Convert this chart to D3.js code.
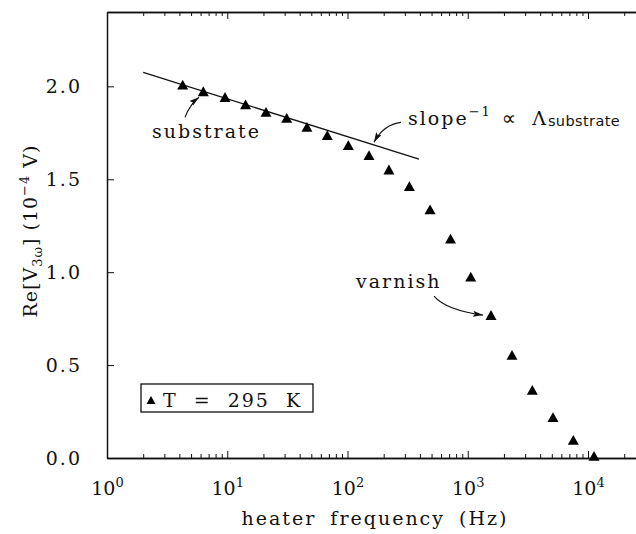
<!DOCTYPE html>
<html>
<head>
<meta charset="utf-8">
<script src="https://cdn.jsdelivr.net/npm/d3@7"></script>
<style>
    body { margin: 0; background: #fff; }
    svg { display: block; }
    text { font-family: "DejaVu Serif", serif; fill: #111; }
</style>
</head>
<body>
<div id="chart"></div>
<script>
// Measured values (heater frequency in Hz, Re[V3w] in 1e-4 V)
const freq = [4.26, 6.32, 9.58, 14.2, 21.0, 31.2, 46.0, 67.9, 101.6, 151, 221, 327,
              486, 719, 1059, 1561, 2333, 3443, 5117, 7546, 11220];
const reV = [2.009, 1.973, 1.942, 1.902, 1.862, 1.830, 1.781, 1.737, 1.683, 1.629, 1.552, 1.462,
             1.337, 1.180, 0.975, 0.769, 0.554, 0.366, 0.219, 0.097, 0.011];

// Low-frequency linear fit (substrate)
const fitFreq = [2, 393];
const fitV = [2.075, 1.608];

// Axis ticks
const xMajor = [1, 10, 100, 1000, 10000];
const xTickExp = ['0', '1', '2', '3', '4'];
const yMajor = [0, 0.5, 1.0, 1.5, 2.0];
const yTickLabels = ['0.0', '0.5', '1.0', '1.5', '2.0'];

// Annotation arrows in data space: [freq, value] start, control, tip
const arrowSubstrate = [[4.45, 1.833], [4.9, 1.903], [5.82, 1.941]];
const arrowSlope = [[278.6, 1.806], [201, 1.796], [166, 1.699]];
const arrowVarnish = [[524, 0.871], [659, 0.796], [1339, 0.769]];

const width = 636;
const height = 534;
const margin = { top: 12, left: 107, bottom: 76 };
const decade = 120.25;
const innerHeight = height - margin.top - margin.bottom;
const maxExp = (width - margin.left) / decade;   // axis runs to the right edge

const svg = d3.select('#chart').append('svg')
    .attr('width', width)
    .attr('height', height);

const xScale = d3.scaleLog()
    .domain([1, Math.pow(10, maxExp)])
    .range([margin.left, width]);

const yScale = d3.scaleLinear()
    .domain([0, 2.4])
    .range([margin.top + innerHeight, margin.top]);

const x0 = margin.left, y0 = margin.top + innerHeight;

// minor ticks 2..9 per decade, inside the visible range
const xMinor = [];
for (let e = 0; e < 5; e++) {
    for (let m = 2; m <= 9; m++) {
        const v = m * Math.pow(10, e);
        if (Math.log10(v) < maxExp - 0.02) xMinor.push(v);
    }
}

const defs = svg.append('defs');
defs.append('marker')
    .attr('id', 'head')
    .attr('viewBox', '0 0 10 6')
    .attr('refX', 10)
    .attr('refY', 3)
    .attr('markerWidth', 10)
    .attr('markerHeight', 6)
    .attr('markerUnits', 'userSpaceOnUse')
    .attr('orient', 'auto')
    .append('path')
    .attr('d', 'M0,0 L10,3 L0,6 L2,3 Z')
    .attr('fill', '#111');

// Axes: bottom, top, left (inward ticks)
const styleAxis = g => {
    g.attr('font-family', null).attr('font-size', null);
    g.select('.domain').attr('stroke', '#111').attr('stroke-width', 1.5);
    g.selectAll('.tick line').attr('stroke', '#111').attr('stroke-width', 1);
};

svg.append('g')
    .attr('transform', `translate(0,${y0})`)
    .call(d3.axisBottom(xScale).tickValues(xMinor).tickSize(-4).tickSizeOuter(0).tickFormat(''))
    .call(styleAxis);

// bottom major ticks with 10^n labels
const xAxisMajor = svg.append('g')
    .attr('transform', `translate(0,${y0})`)
    .call(d3.axisBottom(xScale).tickValues(xMajor).tickSize(-7).tickSizeOuter(0)
        .tickPadding(24).tickFormat(() => '10'))
    .call(styleAxis);
xAxisMajor.selectAll('.tick text')
    .style('font-size', '19px')
    .append('tspan')
    .attr('dy', -8)
    .style('font-size', '13px')
    .text((d, i) => xTickExp[i]);

svg.append('g')
    .attr('transform', `translate(0,${margin.top})`)
    .call(d3.axisTop(xScale).tickValues(xMinor).tickSize(-4).tickSizeOuter(0).tickFormat(''))
    .call(styleAxis);
svg.append('g')
    .attr('transform', `translate(0,${margin.top})`)
    .call(d3.axisTop(xScale).tickValues(xMajor).tickSize(-7).tickSizeOuter(0).tickFormat(''))
    .call(styleAxis);

const yAxis = svg.append('g')
    .attr('transform', `translate(${x0},0)`)
    .call(d3.axisLeft(yScale).tickValues(yMajor).tickSize(-7).tickSizeOuter(0)
        .tickPadding(25).tickFormat((d, i) => yTickLabels[i]))
    .call(styleAxis);
yAxis.selectAll('.tick text')
    .style('font-size', '19px')
    .style('letter-spacing', '2px');

// axis titles
svg.append('text')
    .attr('x', 375)
    .attr('y', 525)
    .attr('text-anchor', 'middle')
    .style('font-size', '19px')
    .style('letter-spacing', '2px')
    .style('word-spacing', '6px')
    .text('heater frequency (Hz)');

const yl = svg.append('text')
    .attr('transform', 'translate(37,231) rotate(-90)')
    .attr('text-anchor', 'middle')
    .style('font-size', '19px')
    .style('letter-spacing', '1px');
yl.append('tspan').text('Re[V');
yl.append('tspan').attr('dy', 5).style('font-size', '13px').text('3ω');
yl.append('tspan').attr('dy', -5).text(']  (10');
yl.append('tspan').attr('dy', -8).style('font-size', '13px').text('−4');
yl.append('tspan').attr('dy', 8).text(' V)');

// fit line
const line = d3.line()
    .x(d => xScale(d[0]))
    .y(d => yScale(d[1]));

svg.append('path')
    .datum(d3.zip(fitFreq, fitV))
    .attr('d', line)
    .attr('fill', 'none')
    .attr('stroke', '#111')
    .attr('stroke-width', 1.3);

// data points
const tri = 'M-5.5,4.8 L5.5,4.8 L0,-5 Z';
svg.selectAll('.pt')
    .data(d3.zip(freq, reV))
    .enter().append('path')
    .attr('class', 'pt')
    .attr('transform', d => `translate(${xScale(d[0])},${yScale(d[1])})`)
    .attr('d', tri)
    .attr('fill', '#000');

// annotation arrows
const curve = pts => {
    const p = pts.map(d => [xScale(d[0]), yScale(d[1])]);
    return `M${p[0][0]},${p[0][1]} Q${p[1][0]},${p[1][1]} ${p[2][0]},${p[2][1]}`;
};
[arrowSubstrate, arrowSlope, arrowVarnish].forEach(a => {
    svg.append('path')
        .attr('d', curve(a))
        .attr('fill', 'none')
        .attr('stroke', '#111')
        .attr('stroke-width', 1.1)
        .attr('marker-end', 'url(#head)');
});

// annotation texts
svg.append('text')
    .attr('x', xScale(2.37))
    .attr('y', yScale(1.72))
    .style('font-size', '19px')
    .style('letter-spacing', '2px')
    .text('substrate');

svg.append('text')
    .attr('x', xScale(117.7))
    .attr('y', yScale(0.914))
    .style('font-size', '19px')
    .style('letter-spacing', '2px')
    .text('varnish');

const sl = svg.append('text')
    .attr('x', xScale(318.5))
    .attr('y', yScale(1.79))
    .style('font-size', '19px')
    .style('letter-spacing', '2px');
sl.append('tspan').text('slope');
sl.append('tspan').attr('dy', -9).style('font-size', '13px').text('−1');
sl.append('tspan').attr('dy', 9).attr('dx', 10)
    .style('font-family', '"DejaVu Sans", sans-serif')
    .style('font-size', '20px').text('∝');
sl.append('tspan').attr('dx', 14).text('Λ');
sl.append('tspan')
    .attr('dy', 1)
    .style('font-family', '"DejaVu Sans", sans-serif')
    .style('font-size', '14.5px')
    .style('letter-spacing', '0.4px')
    .text('substrate');

// legend
const lg = svg.append('g');
lg.append('rect')
    .attr('x', 141).attr('y', 384)
    .attr('width', 172).attr('height', 28)
    .attr('fill', '#fff')
    .attr('stroke', '#111')
    .attr('stroke-width', 1.3);
lg.append('path')
    .attr('transform', 'translate(151,400)')
    .attr('d', 'M-4.5,4 L4.5,4 L0,-4 Z')
    .attr('fill', '#000');
lg.append('text')
    .attr('x', 163)
    .attr('y', 407)
    .style('font-size', '19px')
    .style('letter-spacing', '2px')
    .style('word-spacing', '8px')
    .text('T = 295 K');
</script>
</body>
</html>
